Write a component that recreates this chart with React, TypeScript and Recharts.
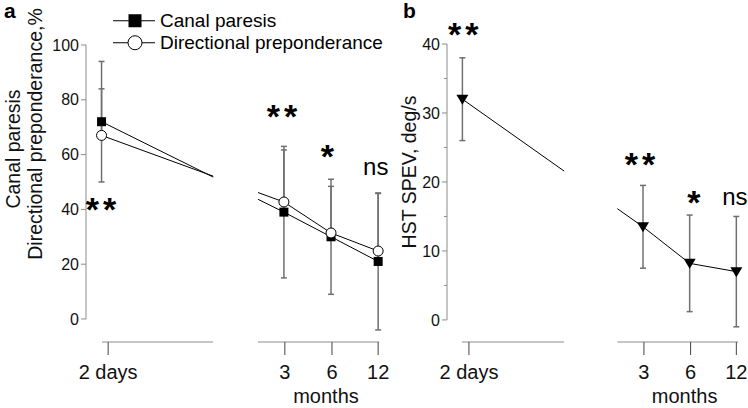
import React from "react"
import {
  ComposedChart,
  Line,
  XAxis,
  YAxis,
  ErrorBar,
  ReferenceLine,
  ReferenceArea,
  ReferenceDot,
  Legend,
} from "recharts"

// time points (x categories)
const TIMEPOINTS = ["2 days", "3", "6", "12"]

// panel a: canal paresis / directional preponderance, %
const SERIES_A = ["Canal paresis", "Directional preponderance"]
const CANAL_PARESIS = [72, 39, 30, 21]
const CANAL_PARESIS_SD = [22, 24, 21, 25]
const DIR_PREP = [67, 42.7, 31.4, 24.8]
// only the upper whisker is visible for this series
const DIR_PREP_SD_UP = [17, 19, 17, 21]

// panel b: HST SPEV, deg/s
const HST_SPEV = [32, 13.5, 8.2, 7]
const HST_SPEV_SD = [6, 6, 7, 8]

// significance marks
const SIG_A = ["**", "**", "*", "ns"]
const SIG_B = ["**", "**", "*", "ns"]

// ---- layout (broken time axis) ----
const X_POS = [-0.87, 3, 4, 5]
const TICK_POS = [-0.73, 3.02, 4.02, 5.0]
const SEG_A: [number, number][] = [[-0.86, 1.5], [2.45, 5.02]]
const SEG_B: [number, number][] = [[-0.88, 1.31], [2.45, 5.04]]
const SIG_POS_A = [[-0.84, 35.7], [3.0, 69.7], [3.92, 55.1], [4.95, 52.5]]
const SIG_POS_B = [[-0.81, 39.7], [2.98, 20.9], [4.09, 15.4], [4.97, 16.7]]

const FONT = "Arial, 'Liberation Sans', Helvetica, sans-serif"
const AXIS_GREY = "#8c8c8c"
const TICK_GREY = "#444"
const ERR_GREY = "#707070"

const dataA = TIMEPOINTS.map((t, i) => ({
  x: X_POS[i],
  cp: CANAL_PARESIS[i],
  cpErr: CANAL_PARESIS_SD[i],
  dp: DIR_PREP[i],
  dpErr: [0, DIR_PREP_SD_UP[i]],
}))

const dataB = TIMEPOINTS.map((t, i) => ({
  x: X_POS[i],
  hst: HST_SPEV[i],
  hstErr: HST_SPEV_SD[i],
}))

// markers
const squareDot = (p: any) => (
  <rect key={`sq${p.index}`} x={p.cx - 4.5} y={p.cy - 4.5} width={9} height={9} fill="#000" />
)
const circleDot = (p: any) => (
  <circle key={`ci${p.index}`} cx={p.cx} cy={p.cy} r={5} fill="#fff" stroke="#000" strokeWidth={1} />
)
const triDot = (p: any) => (
  <polygon
    key={`tr${p.index}`}
    points={`${p.cx - 6},${p.cy - 4.5} ${p.cx + 6},${p.cy - 4.5} ${p.cx},${p.cy + 5.5}`}
    fill="#000"
  />
)

const makeYTick = (labelEvery: number) => (props: any) => {
  const { x, y, payload } = props
  const major = payload.value % labelEvery === 0
  return (
    <g>
      <line x1={x - (major ? 5 : 3)} x2={x} y1={y} y2={y} stroke={AXIS_GREY} />
      {major && (
        <text x={x - 7} y={y} dy="0.35em" textAnchor="end" fontSize={16} fill="#111">
          {payload.value}
        </text>
      )}
    </g>
  )
}

const XTick = (props: any) => {
  const { x, y, payload } = props
  const i = TICK_POS.indexOf(payload.value)
  return (
    <g>
      <text x={x} y={y + 24} textAnchor="middle" fontSize={20} fill="#111">
        {TIMEPOINTS[i]}
      </text>
      {i === 2 && (
        <text x={x - 6} y={y + 48} textAnchor="middle" fontSize={20} fill="#111">
          months
        </text>
      )}
    </g>
  )
}

const yLabelA = (p: any) => {
  const vx = p?.viewBox?.x ?? 0
  return (
    <g fontSize={19.5} fill="#111">
      <text transform={`translate(${vx + 20},149) rotate(-90)`} textAnchor="middle">
        Canal paresis
      </text>
      <text transform={`translate(${vx + 42},134) rotate(-90)`} textAnchor="middle">
        Directional preponderance,%
      </text>
    </g>
  )
}

const yLabelB = (p: any) => {
  const vx = p?.viewBox?.x ?? 0
  return (
    <text transform={`translate(${vx + 26},172) rotate(-90)`} textAnchor="middle" fontSize={19.5} fill="#111">
      HST SPEV, deg/s
    </text>
  )
}

const renderLegend = (props: any) => (
  <div style={{ fontFamily: FONT, fontSize: 19, color: "#000" }}>
    {(props.payload || [])
      .filter((entry: any) => SERIES_A.includes(entry.value))
      .map((entry: any) => (
        <div key={entry.value} style={{ display: "flex", alignItems: "center", height: 21.5 }}>
          <svg width={47} height={21.5} style={{ display: "block" }}>
            <line x1={0} x2={42} y1={10.75} y2={10.75} stroke="#000" />
            {entry.value === SERIES_A[0] ? (
              <rect x={15.5} y={4.25} width={13} height={13} fill="#000" />
            ) : (
              <circle cx={22} cy={10.75} r={7} fill="#fff" stroke="#000" />
            )}
          </svg>
          <span style={{ lineHeight: "21.5px", whiteSpace: "nowrap" }}>{entry.value}</span>
        </div>
      ))}
  </div>
)

// axis line pieces and the white gap over the break
const brokenAxis = (seg: [number, number][], xMin: number, yMin: number, yTop: number, yMax: number) => [
  <ReferenceLine
    key="yaxis"
    segment={[{ x: xMin, y: 0 }, { x: xMin, y: yTop }]}
    stroke={AXIS_GREY}
    ifOverflow="visible"
  />,
  ...seg.map((s, i) => (
    <ReferenceLine
      key={`seg${i}`}
      segment={[{ x: s[0], y: yMin }, { x: s[1], y: yMin }]}
      stroke={AXIS_GREY}
      ifOverflow="visible"
    />
  )),
  <ReferenceArea
    key="gap"
    x1={seg[0][1]}
    x2={seg[1][0]}
    y1={yMin}
    y2={yMax}
    fill="#fff"
    fillOpacity={1}
    stroke="none"
    ifOverflow="visible"
    zIndex={1500}
  />,
]

const sigMarks = (labels: string[], pos: number[][]) =>
  labels.map((s, i) => (
    <ReferenceDot
      key={`sig${i}`}
      x={pos[i][0]}
      y={pos[i][1]}
      r={0}
      ifOverflow="visible"
      shape={(p: any) => (
        <text
          x={p.cx}
          y={p.cy}
          textAnchor="middle"
          fontSize={s === "ns" ? 24 : 34}
          fontWeight={s === "ns" ? 400 : 700}
          letterSpacing={s === "**" ? 4 : 0}
          fill="#000"
        >
          {s}
        </text>
      )}
    />
  ))

export default function App() {
  return (
    <div
      style={{
        position: "absolute",
        left: 0,
        top: 0,
        width: 748,
        height: 408,
        background: "#fff",
        fontFamily: FONT,
        overflow: "hidden",
      }}
    >
      {/* panel a */}
      <div style={{ position: "absolute", left: 0, top: 0 }}>
        <ComposedChart width={397} height={408} data={dataA} margin={{ top: 45, right: 0, bottom: 0, left: 0 }}>
          <XAxis
            type="number"
            dataKey="x"
            domain={[-1.2, 5.4]}
            ticks={TICK_POS}
            interval={0}
            allowDataOverflow
            axisLine={false}
            tickLine={{ stroke: TICK_GREY }}
            tickSize={13}
            tickMargin={0}
            tick={XTick}
            height={66}
          />
          <YAxis
            type="number"
            domain={[-8.4, 100]}
            ticks={[0, 20, 40, 60, 80, 100]}
            interval={0}
            allowDataOverflow
            axisLine={false}
            tickLine={false}
            tickSize={0}
            tickMargin={0}
            tick={makeYTick(20)}
            width={86}
            label={yLabelA}
          />
          <Line dataKey="cp" stroke="none" dot={false} activeDot={false} legendType="none" isAnimationActive={false}>
            <ErrorBar dataKey="cpErr" width={3} stroke={ERR_GREY} direction="y" isAnimationActive={false} />
          </Line>
          <Line dataKey="dp" stroke="none" dot={false} activeDot={false} legendType="none" isAnimationActive={false}>
            <ErrorBar dataKey="dpErr" width={3} stroke={ERR_GREY} direction="y" isAnimationActive={false} />
          </Line>
          <Line
            name={SERIES_A[0]}
            dataKey="cp"
            type="linear"
            stroke="#000"
            strokeWidth={1}
            dot={squareDot}
            activeDot={false}
            isAnimationActive={false}
          />
          <Line
            name={SERIES_A[1]}
            dataKey="dp"
            type="linear"
            stroke="#000"
            strokeWidth={1}
            dot={circleDot}
            activeDot={false}
            isAnimationActive={false}
          />
          {brokenAxis(SEG_A, -1.2, -8.4, 100, 100)}
          {sigMarks(SIG_A, SIG_POS_A)}
          <Legend
            layout="vertical"
            align="center"
            verticalAlign="middle"
            wrapperStyle={{ top: 10, left: 113, width: 290 }}
            content={renderLegend}
          />
        </ComposedChart>
      </div>

      {/* panel b */}
      <div style={{ position: "absolute", left: 390, top: 0 }}>
        <ComposedChart width={358} height={408} data={dataB} margin={{ top: 44, right: 0, bottom: 0, left: 0 }}>
          <XAxis
            type="number"
            dataKey="x"
            domain={[-1.2, 5.25]}
            ticks={TICK_POS}
            interval={0}
            allowDataOverflow
            axisLine={false}
            tickLine={{ stroke: TICK_GREY }}
            tickSize={13}
            tickMargin={0}
            tick={XTick}
            height={66}
          />
          <YAxis
            type="number"
            domain={[-3.2, 40]}
            ticks={[0, 5, 10, 15, 20, 25, 30, 35, 40]}
            interval={0}
            allowDataOverflow
            axisLine={false}
            tickLine={false}
            tickSize={0}
            tickMargin={0}
            tick={makeYTick(10)}
            width={57}
            label={yLabelB}
          />
          <Line dataKey="hst" stroke="none" dot={false} activeDot={false} legendType="none" isAnimationActive={false}>
            <ErrorBar dataKey="hstErr" width={3} stroke={ERR_GREY} direction="y" isAnimationActive={false} />
          </Line>
          <Line
            dataKey="hst"
            type="linear"
            stroke="#000"
            strokeWidth={1}
            dot={triDot}
            activeDot={false}
            isAnimationActive={false}
          />
          {brokenAxis(SEG_B, -1.2, -3.2, 40, 40)}
          {sigMarks(SIG_B, SIG_POS_B)}
        </ComposedChart>
      </div>

      <div style={{ position: "absolute", left: 4, top: 0, fontSize: 21, fontWeight: 700, lineHeight: "21px" }}>a</div>
      <div style={{ position: "absolute", left: 403, top: 0, fontSize: 21, fontWeight: 700, lineHeight: "21px" }}>b</div>
    </div>
  )
}
